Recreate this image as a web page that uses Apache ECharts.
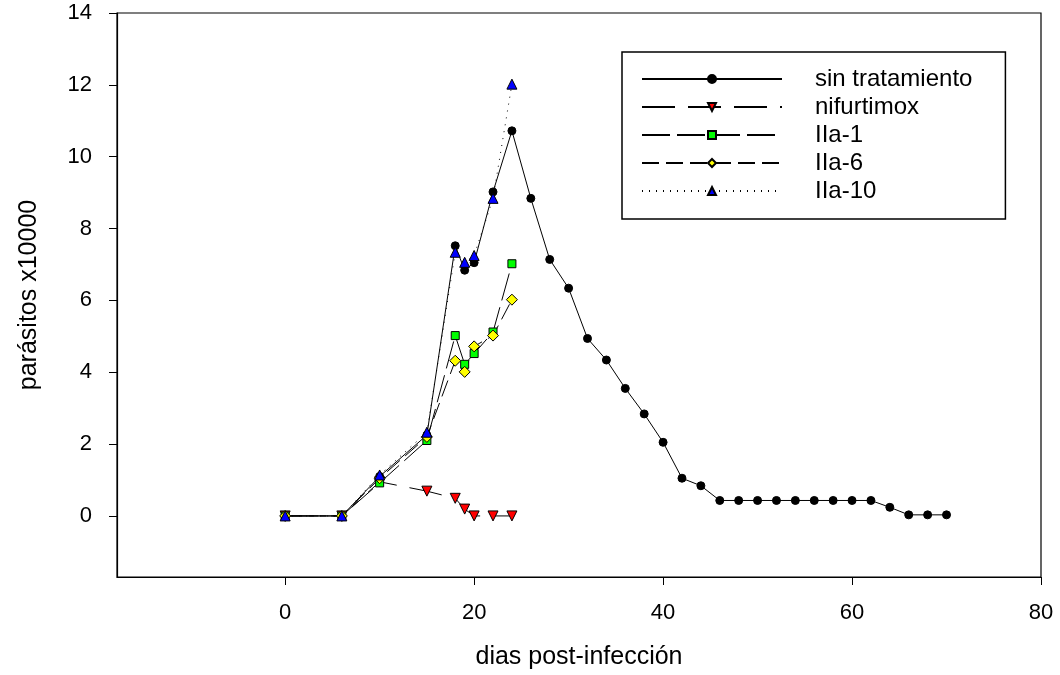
<!DOCTYPE html>
<html>
<head>
<meta charset="utf-8">
<script src="https://cdn.jsdelivr.net/npm/echarts@6/dist/echarts.min.js"></script>
<style>
  html, body { margin: 0; padding: 0; background: #fff; }
  #chart { width: 1060px; height: 675px; }
</style>
</head>
<body>
<div id="chart"></div>
<script>
// dias post-infección
const diasSin = [0, 6, 10, 15, 18, 19, 20, 22, 24, 26, 28, 30, 32, 34, 36, 38, 40, 42, 44, 46, 48, 50, 52, 54, 56, 58, 60, 62, 64, 66, 68, 70];
const valSin = [0, 0, 1.1, 2.25, 7.52, 6.84, 7.05, 9.02, 10.72, 8.84, 7.14, 6.34, 4.94, 4.34, 3.55, 2.84, 2.05, 1.05, 0.84, 0.43, 0.43, 0.43, 0.43, 0.43, 0.43, 0.43, 0.43, 0.43, 0.24, 0.03, 0.03, 0.03];

const diasTrat = [0, 6, 10, 15, 18, 19, 20, 22, 24];
const valNifurtimox = [0, 0, 0.95, 0.69, 0.49, 0.19, 0, 0, 0];
const valIIa1 = [0, 0, 0.92, 2.1, 5.02, 4.22, 4.52, 5.12, 7.02];
const valIIa6 = [0, 0, 1.05, 2.2, 4.32, 4.01, 4.72, 5.02, 6.02];
const valIIa10 = [0, 0, 1.14, 2.33, 7.34, 7.06, 7.25, 8.84, 12.02];

const xTicks = [0, 20, 40, 60, 80];
const yTicks = [0, 2, 4, 6, 8, 10, 12, 14];

const pairs = (xs, ys) => xs.map((x, i) => [x, ys[i]]);

const chart = echarts.init(document.getElementById('chart'));

const fontFam = '"Liberation Sans", Arial, sans-serif';

function serie(name, data, lineType, symbol, size, color, rotate) {
  return {
    name: name,
    type: 'line',
    data: data,
    symbol: symbol,
    symbolSize: size,
    symbolRotate: rotate || 0,
    showAllSymbol: true,
    animation: false,
    lineStyle: { color: '#000', width: 1, type: lineType },
    itemStyle: { color: color, borderColor: '#000', borderWidth: 1 }
  };
}

chart.setOption({
  animation: false,
  grid: {
    left: 117, top: 13, right: 19, bottom: 97,
    show: true, borderColor: '#000', borderWidth: 1.2
  },
  legend: {
    orient: 'vertical',
    left: 622,
    top: 52,
    itemWidth: 140,
    itemHeight: 10,
    itemGap: 4,
    padding: [15, 33, 16, 19],
    borderColor: '#000',
    borderWidth: 1.5,
    textStyle: { fontFamily: fontFam, fontSize: 24, color: '#000', padding: [0, 0, 0, 28] },
    data: ['sin tratamiento', 'nifurtimox', 'IIa-1', 'IIa-6', 'IIa-10']
  },
  xAxis: {
    type: 'value',
    min: -17.8,
    max: 80,
    name: 'dias post-infección',
    nameLocation: 'middle',
    nameGap: 68,
    nameTextStyle: { fontFamily: fontFam, fontSize: 25, color: '#000' },
    axisLine: { show: true, onZero: false, lineStyle: { color: '#000', width: 1.2 } },
    axisTick: { show: true, inside: false, length: 8, customValues: xTicks, lineStyle: { color: '#000' } },
    axisLabel: { customValues: xTicks, margin: 25, fontFamily: fontFam, fontSize: 22, color: '#000' },
    splitLine: { show: false }
  },
  yAxis: {
    type: 'value',
    min: -1.7,
    max: 14,
    name: 'parásitos x10000',
    nameLocation: 'middle',
    nameGap: 75,
    nameTextStyle: { fontFamily: fontFam, fontSize: 25, color: '#000' },
    axisLine: { show: true, onZero: false, lineStyle: { color: '#000', width: 1.2 } },
    axisTick: { show: true, inside: false, length: 8, customValues: yTicks, lineStyle: { color: '#000' } },
    axisLabel: { customValues: yTicks, margin: 25, fontFamily: fontFam, fontSize: 22, color: '#000' },
    splitLine: { show: false }
  },
  series: [
    serie('sin tratamiento', pairs(diasSin, valSin), 'solid', 'circle', 8, '#000'),
    serie('nifurtimox', pairs(diasTrat, valNifurtimox), [33, 13], 'triangle', 10, '#ff0000', 180),
    serie('IIa-1', pairs(diasTrat, valIIa1), [28, 7], 'rect', 8, '#00ff00'),
    serie('IIa-6', pairs(diasTrat, valIIa6), [17, 7], 'diamond', 11, '#ffff00'),
    serie('IIa-10', pairs(diasTrat, valIIa10), [1, 6], 'triangle', 10, '#0000ff')
  ]
});
</script>
</body>
</html>
